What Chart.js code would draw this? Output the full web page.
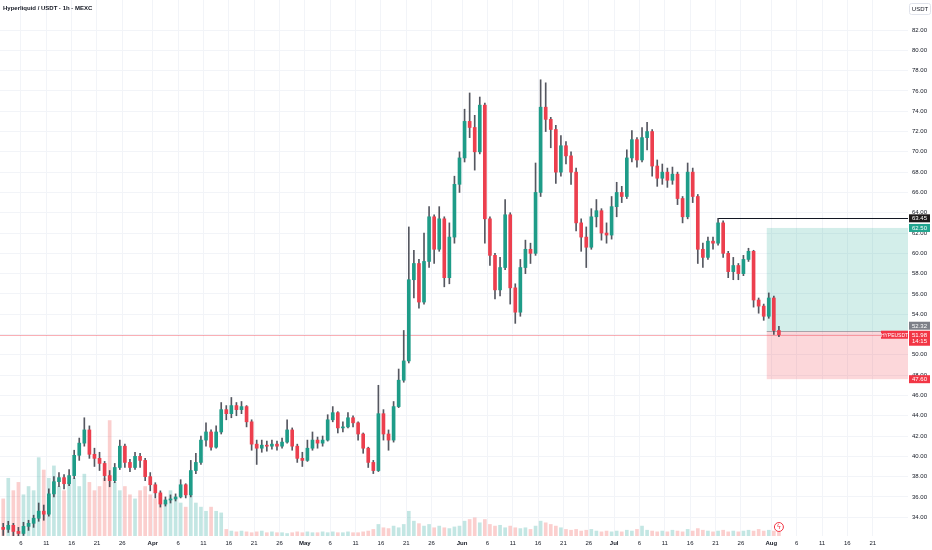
<!DOCTYPE html>
<html>
<head>
  <meta charset="UTF-8">
  <title>Hyperliquid / USDT 1h</title>
  <script src="https://cdn.jsdelivr.net/npm/chart.js"></script>
  <style>
    html, body { margin: 0; padding: 0; background: #fff; }
    #wrap { position: relative; width: 932px; height: 550px; }
  </style>
</head>
<body>
  <div id="wrap"><canvas id="chart"></canvas></div>

  <script>
    // one candle per day, from Mar 1 (index 0) to Aug 2
    const opens = [
      33.2, 33.0, 32.8, 33.2, 32.6, 32.4, 33.1, 33.4, 33.9, 34.6, 34.3, 36.3, 37.5, 37.9, 37.3, 38.1, 40.1, 41.3, 42.6, 40.2, 39.8, 39.3, 38.1, 37.6, 38.9, 41.0, 39.4, 38.9, 40.0, 39.6, 38.0,
      37.2, 36.4, 35.3, 35.7, 35.8, 36.0, 37.2, 36.2, 38.6, 39.4, 41.6, 42.4, 40.9, 42.4, 44.6, 44.2, 45.0, 44.6, 44.9, 43.4, 41.2, 40.8, 41.1, 41.0, 41.2, 41.0, 41.4, 42.6, 41.0, 39.8,
      39.6, 40.8, 41.6, 41.3, 41.6, 43.6, 44.3, 42.8, 42.9, 43.8, 43.3, 42.2, 40.8, 39.4, 38.6, 44.2, 42.2, 41.6, 44.9, 47.5, 49.4, 57.4, 59.0, 55.2, 59.2, 63.6, 60.4, 63.4, 57.6, 61.6, 66.8,
      69.4, 73.0, 72.4, 70.0, 74.6, 63.4, 59.8, 56.4, 58.6, 63.8, 56.6, 54.2, 58.6, 60.4, 60.0, 66.0, 74.4, 73.2, 72.2, 68.0, 70.6, 69.6, 68.0, 63.0, 61.6, 60.6, 63.6, 64.2, 62.0, 61.8,
      64.6, 66.0, 65.6, 69.4, 71.2, 69.2, 71.4, 72.0, 68.6, 67.4, 68.0, 67.2, 67.8, 65.4, 63.6, 68.0, 65.6, 60.4, 59.6, 61.2, 61.0, 63.0, 60.0, 58.2, 58.8, 58.0, 59.4, 60.2, 55.4, 54.8, 53.8,
      55.6, 52.4
    ];
    const highs = [
      33.6, 33.4, 33.6, 33.4, 33.0, 33.5, 33.7, 34.2, 35.4, 35.2, 36.8, 38.0, 38.4, 38.2, 38.7, 40.6, 41.8, 43.8, 43.0, 40.8, 40.4, 39.5, 38.6, 39.3, 41.6, 41.2, 39.7, 40.4, 40.3, 39.8, 38.4,
      37.4, 36.6, 36.0, 36.2, 36.3, 37.7, 37.3, 39.6, 40.3, 42.0, 43.3, 42.6, 43.0, 45.3, 45.0, 45.8, 45.3, 45.4, 45.0, 43.6, 41.6, 41.6, 41.5, 41.6, 41.5, 41.8, 43.6, 42.8, 41.2, 40.4,
      41.6, 42.4, 41.9, 42.0, 44.1, 44.9, 44.4, 43.4, 44.3, 44.0, 43.4, 42.3, 40.9, 39.6, 47.0, 44.6, 42.6, 45.4, 48.6, 52.4, 62.6, 60.3, 59.4, 62.0, 64.6, 63.8, 64.6, 63.6, 63.0, 67.6, 70.0,
      74.2, 75.8, 73.6, 75.4, 74.8, 63.6, 60.0, 59.6, 65.3, 64.0, 57.0, 59.4, 61.3, 61.0, 68.9, 77.1, 76.8, 73.4, 72.6, 71.6, 71.0, 70.0, 68.4, 63.4, 62.6, 64.4, 65.3, 64.4, 63.0, 65.6,
      67.0, 66.6, 70.2, 72.1, 71.4, 72.4, 72.9, 72.2, 69.2, 68.8, 68.4, 68.5, 68.0, 65.6, 68.9, 68.4, 65.8, 61.0, 61.6, 61.6, 63.45, 63.2, 60.2, 59.6, 59.0, 59.8, 60.5, 60.3, 55.6, 55.0, 56.1,
      55.8, 52.8
    ];
    const lows = [
      32.4, 32.2, 32.5, 32.0, 31.9, 32.2, 32.7, 33.0, 33.6, 33.7, 34.1, 36.0, 37.0, 36.8, 37.1, 37.8, 39.6, 41.0, 39.8, 39.0, 38.6, 37.6, 37.0, 37.4, 38.7, 38.9, 38.5, 38.7, 38.9, 37.6, 36.6,
      35.9, 35.0, 35.1, 35.4, 35.6, 35.9, 35.9, 36.0, 38.3, 39.2, 41.0, 40.6, 40.8, 42.2, 43.6, 43.8, 44.0, 44.2, 42.9, 40.6, 39.2, 40.4, 40.5, 40.7, 40.6, 40.8, 41.3, 40.6, 39.4, 39.0,
      39.5, 40.6, 40.8, 41.0, 41.5, 43.4, 42.3, 42.4, 42.8, 42.9, 41.6, 40.3, 38.9, 38.3, 38.5, 41.6, 40.6, 41.4, 44.8, 47.3, 49.2, 55.6, 54.6, 55.0, 58.6, 59.0, 60.2, 56.7, 57.0, 61.0, 66.0,
      69.0, 71.4, 68.2, 69.8, 61.0, 58.8, 55.5, 55.8, 58.4, 55.0, 53.1, 53.8, 58.0, 59.0, 59.8, 65.6, 72.0, 70.4, 66.9, 67.6, 68.8, 66.8, 62.2, 60.2, 58.6, 60.4, 62.6, 61.3, 61.0, 61.4,
      63.6, 65.0, 65.4, 69.0, 68.5, 69.0, 70.2, 67.6, 66.6, 66.8, 66.5, 66.8, 64.8, 63.0, 63.4, 65.0, 59.0, 58.6, 59.4, 60.4, 60.8, 59.6, 57.6, 57.4, 57.4, 57.8, 59.2, 54.7, 54.1, 53.4, 53.6,
      52.0, 51.8
    ];
    const closes = [
      33.0, 32.8, 33.2, 32.6, 32.4, 33.1, 33.4, 33.9, 34.6, 34.3, 36.3, 37.5, 37.9, 37.3, 38.1, 40.1, 41.3, 42.6, 40.2, 39.8, 39.3, 38.1, 37.6, 38.9, 41.0, 39.4, 38.9, 40.0, 39.6, 38.0, 37.2,
      36.4, 35.3, 35.7, 35.8, 36.0, 37.2, 36.2, 38.6, 39.4, 41.6, 42.4, 40.9, 42.4, 44.6, 44.2, 45.0, 44.6, 44.9, 43.4, 41.2, 40.8, 41.1, 41.0, 41.2, 41.0, 41.4, 42.6, 41.0, 39.8, 39.6,
      40.8, 41.6, 41.3, 41.6, 43.6, 44.3, 42.8, 42.9, 43.8, 43.3, 42.2, 40.8, 39.4, 38.6, 44.2, 42.2, 41.6, 44.9, 47.5, 49.4, 57.4, 59.0, 55.2, 59.2, 63.6, 60.4, 63.4, 57.6, 61.6, 66.8, 69.4,
      73.0, 72.4, 70.0, 74.6, 63.4, 59.8, 56.4, 58.6, 63.8, 56.6, 54.2, 58.6, 60.4, 60.0, 66.0, 74.4, 73.2, 72.2, 68.0, 70.6, 69.6, 68.0, 63.0, 61.6, 60.6, 63.6, 64.2, 62.0, 61.8, 64.6,
      66.0, 65.6, 69.4, 71.2, 69.2, 71.4, 72.0, 68.6, 67.4, 68.0, 67.2, 67.8, 65.4, 63.6, 68.0, 65.6, 60.4, 59.6, 61.2, 61.0, 63.0, 60.0, 58.2, 58.8, 58.0, 59.4, 60.2, 55.4, 54.8, 53.8, 55.6,
      52.4, 51.98
    ];
    const volumes = [
      60, 45, 70, 55, 65, 50, 60, 55, 95, 80, 70, 85, 60, 55, 65, 70, 60, 75, 65, 55, 60, 70, 140, 65, 55, 60, 50, 45, 55, 60, 50,
      45, 50, 40, 55, 45, 40, 35, 50, 40, 35, 30, 35, 30, 28, 8, 6, 5, 6, 5, 4, 5, 6, 4, 5, 4, 4, 3, 4, 5, 4,
      5, 4, 4, 5, 4, 5, 4, 4, 5, 4, 4, 5, 6, 8, 14, 10, 9, 12, 10, 14, 30, 18, 15, 12, 14, 10, 12, 10, 9, 11, 12,
      18, 20, 22, 16, 20, 14, 12, 13, 10, 12, 10, 9, 10, 8, 12, 18, 16, 14, 12, 10, 8, 7, 8, 6, 7, 8, 6, 5, 6, 5,
      6, 5, 7, 6, 8, 12, 7, 6, 5, 6, 5, 7, 6, 5, 8, 6, 9, 7, 6, 5, 6, 7, 5, 6, 5, 6, 7, 6, 8, 6, 7,
      6, 5
    ];

    // axis ticks (day index from Mar 1)
    const xTickDays = [5, 10, 15, 20, 25, 31, 36, 41, 46, 51, 56, 61, 66, 71, 76, 81, 86, 92, 97, 102, 107, 112, 117,
                       122, 127, 132, 137, 142, 147, 153, 158, 163, 168, 173];
    const xTickLabels = ['6', '11', '16', '21', '26', 'Apr', '6', '11', '16', '21', '26', 'May', '6', '11', '16', '21', '26',
                         'Jun', '6', '11', '16', '21', '26', 'Jul', '6', '11', '16', '21', '26', 'Aug', '6', '11', '16', '21'];
    const yTicks = [34, 36, 38, 40, 42, 44, 46, 48, 50, 52, 54, 56, 58, 60, 62, 64, 66, 68, 70, 72, 74, 76, 78, 80, 82];

    // position tool + levels
    const lastPrice = 51.98;
    const lastTime = '14:15';
    const entryPrice = 52.32;
    const targetPrice = 62.50;
    const stopPrice = 47.60;
    const highLevel = 63.45;
    const highLevelDay = 142.5;
    const boxStartDay = 152.1;

    const UP = '#1e9c88';
    const DOWN = '#ec3f4e';
    const WICK = 'rgba(55,58,68,0.85)';
    const FONT = '"Liberation Sans", Arial, sans-serif';

    const isUp = opens.map((o, i) => closes[i] >= o);
    const wicks = lows.map((l, i) => ({ x: i + 0.5, y: [l, highs[i]] }));
    const bodies = opens.map((o, i) => ({ x: i + 0.5, y: [o, closes[i]] }));
    const vols = volumes.map((v, i) => ({ x: i + 0.5, y: v }));

    function tag(ctx, text, cy, bg, fg, left, w, h) {
      ctx.fillStyle = bg;
      ctx.fillRect(left, cy - h / 2, w, h);
      ctx.fillStyle = fg;
      ctx.textAlign = 'center';
      ctx.textBaseline = 'middle';
      ctx.fillText(text, left + w / 2, cy + 0.5);
    }

    const overlay = {
      id: 'overlay',
      beforeDatasetsDraw(chart) {
        const { ctx, chartArea: a, scales: { x, y } } = chart;
        ctx.save();
        const bx = x.getPixelForValue(boxStartDay);
        const yT = y.getPixelForValue(targetPrice);
        const yE = y.getPixelForValue(entryPrice);
        const yS = y.getPixelForValue(stopPrice);
        ctx.fillStyle = 'rgba(34,171,148,0.2)';
        ctx.fillRect(bx, yT, a.right - bx, yE - yT);
        ctx.fillStyle = 'rgba(242,54,69,0.2)';
        ctx.fillRect(bx, yE, a.right - bx, yS - yE);
        ctx.strokeStyle = 'rgba(120,123,134,0.6)';
        ctx.lineWidth = 1;
        ctx.beginPath();
        ctx.moveTo(bx, Math.round(yE) + 0.5);
        ctx.lineTo(a.right, Math.round(yE) + 0.5);
        ctx.stroke();

        // last price line
        const yL = Math.round(y.getPixelForValue(lastPrice)) + 0.5;
        ctx.strokeStyle = 'rgba(242,54,69,0.4)';
        ctx.beginPath();
        ctx.moveTo(a.left, yL);
        ctx.lineTo(a.right, yL);
        ctx.stroke();

        // horizontal level at the July high
        const yH = Math.round(y.getPixelForValue(highLevel)) + 0.5;
        ctx.strokeStyle = '#131722';
        ctx.beginPath();
        ctx.moveTo(x.getPixelForValue(highLevelDay), yH);
        ctx.lineTo(a.right, yH);
        ctx.stroke();
        ctx.restore();
      },
      afterDraw(chart) {
        const { ctx, chartArea: a, scales: { x, y } } = chart;
        ctx.save();
        ctx.font = '6px ' + FONT;
        const left = a.right + 1;
        const w = 21;

        tag(ctx, highLevel.toFixed(2), y.getPixelForValue(highLevel), '#1e1a1a', '#fff', left, w, 8);
        tag(ctx, targetPrice.toFixed(2), y.getPixelForValue(targetPrice), '#22a58f', '#fff', left, w, 8);

        const yL = y.getPixelForValue(lastPrice);
        const yE = Math.min(y.getPixelForValue(entryPrice), yL - 9);
        tag(ctx, entryPrice.toFixed(2), yE, '#7d8088', '#fff', left, w, 8);
        ctx.fillStyle = '#f23645';
        ctx.fillRect(left, yL - 4, w, 15);
        ctx.fillStyle = '#fff';
        ctx.textAlign = 'center';
        ctx.textBaseline = 'middle';
        ctx.fillText(lastPrice.toFixed(2), left + w / 2, yL + 0.5);
        ctx.fillText(lastTime, left + w / 2, yL + 7);
        tag(ctx, stopPrice.toFixed(2), y.getPixelForValue(stopPrice), '#f23645', '#fff', left, w, 8);
        ctx.font = '5px ' + FONT;
        tag(ctx, 'HYPEUSDT', yL, '#f23645', '#fff', a.right - 27, 27, 8);

        // currency box
        ctx.font = '6px ' + FONT;
        ctx.strokeStyle = '#e0e3eb';
        ctx.fillStyle = '#fff';
        ctx.beginPath();
        ctx.roundRect(a.right + 1.5, 3.5, 21, 11, 2);
        ctx.fill();
        ctx.stroke();
        ctx.fillStyle = '#131722';
        ctx.fillText('USDT', a.right + 12, 9.5);

        // title
        ctx.textAlign = 'left';
        ctx.font = '600 6px ' + FONT;
        ctx.fillStyle = '#131722';
        ctx.fillText('Hyperliquid / USDT · 1h · MEXC', 3, 8.5);

        // events marker under the last bar
        const fx = x.getPixelForValue(closes.length - 0.5);
        const fy = a.bottom - 9;
        ctx.beginPath();
        ctx.arc(fx, fy, 4.5, 0, Math.PI * 2);
        ctx.fillStyle = '#fff';
        ctx.fill();
        ctx.strokeStyle = '#f23645';
        ctx.lineWidth = 1;
        ctx.stroke();
        ctx.fillStyle = '#f23645';
        ctx.textAlign = 'center';
        ctx.font = '7px "DejaVu Sans"';
        ctx.fillText('ϟ', fx, fy + 0.5);
        ctx.restore();
      }
    };

    new Chart(document.getElementById('chart'), {
      type: 'bar',
      data: {
        datasets: [
          {
            label: 'Body',
            data: bodies,
            backgroundColor: isUp.map(u => u ? UP : DOWN),
            barThickness: 3,
            minBarLength: 1,
            grouped: false,
            order: 0
          },
          {
            label: 'Wick',
            data: wicks,
            backgroundColor: WICK,
            barThickness: 1,
            grouped: false,
            order: 1
          },
          {
            label: 'Volume',
            data: vols,
            yAxisID: 'yVol',
            backgroundColor: isUp.map(u => u ? 'rgba(38,166,154,0.28)' : 'rgba(239,83,80,0.28)'),
            barThickness: 3,
            grouped: false,
            order: 3
          }
        ]
      },
      options: {
        responsive: true,
        maintainAspectRatio: false,
        animation: false,
        layout: { padding: 0 },
        plugins: {
          legend: { display: false },
          tooltip: { enabled: false }
        },
        scales: {
          x: {
            type: 'linear',
            offset: false,
            min: 0.868,
            max: 179.96,
            grid: { color: '#f2f4f8', drawTicks: false, offset: false },
            border: { display: false },
            afterBuildTicks: s => { s.ticks = xTickDays.map(v => ({ value: v })); },
            afterFit: s => { s.height = 14; s.paddingLeft = 0; s.paddingRight = 0; },
            ticks: {
              autoSkip: false,
              maxRotation: 0,
              padding: 4,
              color: '#131722',
              font: c => ({ family: FONT, size: 6, weight: isNaN(xTickLabels[c.index]) ? 'bold' : 'normal' }),
              callback: (v, i) => xTickLabels[i]
            }
          },
          y: {
            type: 'linear',
            position: 'right',
            min: 32.15,
            max: 84.96,
            grid: { color: '#f2f4f8', drawTicks: false },
            border: { display: false },
            afterBuildTicks: s => { s.ticks = yTicks.map(v => ({ value: v })); },
            afterFit: s => { s.width = 24; s.paddingTop = 0; s.paddingBottom = 0; },
            ticks: {
              padding: 4,
              color: '#131722',
              font: { family: FONT, size: 6 },
              callback: v => v.toFixed(2)
            }
          },
          yVol: {
            type: 'linear',
            display: false,
            min: 0,
            max: 650
          }
        }
      },
      plugins: [overlay]
    });
  </script>
</body>
</html>
